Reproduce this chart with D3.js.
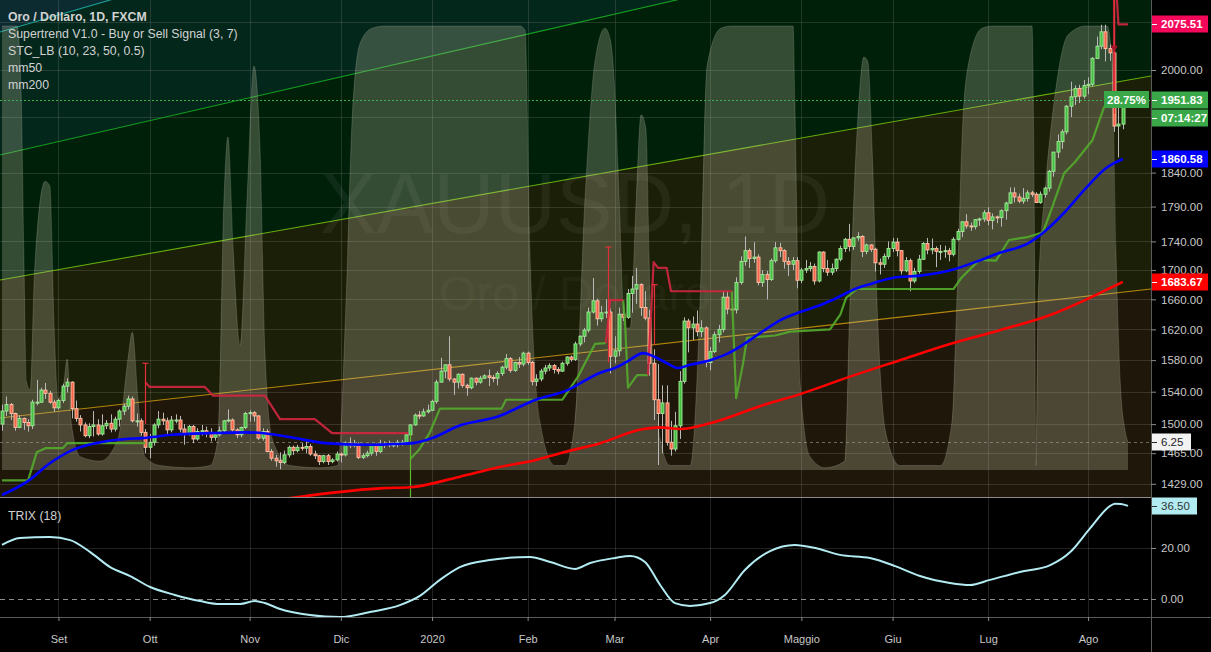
<!DOCTYPE html>
<html><head><meta charset="utf-8">
<script src="https://cdn.jsdelivr.net/npm/d3@7"></script>
<style>
html,body{margin:0;padding:0;background:#000;overflow:hidden}
svg{display:block}
text{font-family:"Liberation Sans",Arial,sans-serif}
</style></head>
<body><svg id="c" width="1211" height="652"></svg>
<script>
// ---------------- DATA ----------------
// daily OHLC, XAUUSD FXCM, 14 Aug 2019 .. 13 Aug 2020 (bar index 0..258)
const ohlc = [
// Aug 2019
[1500,1524,1492,1516],[1516,1534,1510,1524],[1524,1526,1505,1513],[1513,1514,1492,1496],[1496,1511,1495,1507],
[1507,1508,1493,1502],[1502,1506,1491,1498],[1498,1530,1494,1527],[1527,1555,1523,1527],[1527,1545,1526,1542],
[1542,1551,1531,1538],[1538,1541,1525,1527],[1527,1530,1515,1520],
// Sep
[1520,1531,1518,1529],[1529,1550,1526,1547],[1547,1557,1539,1552],[1552,1553,1507,1519],[1519,1529,1503,1507],
[1507,1511,1491,1499],[1499,1502,1484,1486],[1486,1501,1483,1497],[1497,1516,1485,1499],[1499,1506,1486,1488],
[1488,1512,1486,1498],[1498,1505,1494,1501],[1501,1512,1490,1494],[1494,1509,1491,1506],[1506,1518,1497,1516],
[1516,1525,1511,1522],[1522,1535,1518,1531],[1531,1534,1502,1504],[1504,1513,1497,1504],[1504,1507,1486,1490],
[1490,1494,1465,1472],
// Oct
[1472,1488,1459,1478],[1478,1501,1474,1499],[1499,1516,1495,1506],[1506,1514,1499,1504],[1504,1508,1488,1493],
[1493,1510,1490,1505],[1505,1512,1501,1505],[1505,1510,1490,1494],[1494,1500,1475,1488],[1488,1499,1486,1497],
[1497,1499,1477,1482],[1482,1495,1480,1491],[1491,1499,1486,1492],[1492,1497,1484,1490],[1490,1495,1479,1484],
[1484,1490,1480,1487],[1487,1497,1485,1492],[1492,1505,1490,1504],[1504,1518,1502,1505],[1505,1507,1490,1493],
[1493,1495,1483,1487],[1487,1497,1484,1496],[1496,1515,1494,1513],
// Nov
[1513,1517,1503,1514],[1514,1516,1503,1510],[1510,1511,1481,1483],[1483,1495,1480,1491],[1491,1494,1466,1467],
[1467,1470,1456,1459],[1459,1463,1449,1456],[1456,1466,1446,1454],[1454,1468,1452,1463],[1463,1474,1460,1472],
[1472,1474,1463,1468],[1468,1475,1466,1472],[1472,1477,1468,1471],[1471,1479,1465,1473],[1473,1476,1462,1464],
[1464,1468,1458,1462],[1462,1463,1451,1455],[1455,1463,1453,1462],[1462,1464,1451,1455],[1455,1459,1453,1457],
[1457,1467,1455,1464],
// Dec
[1464,1466,1454,1463],[1463,1479,1461,1477],[1477,1484,1471,1474],[1474,1481,1472,1476],[1476,1478,1458,1460],
[1460,1465,1458,1462],[1462,1468,1460,1465],[1465,1476,1462,1475],[1475,1477,1462,1467],[1467,1481,1465,1476],
[1476,1479,1471,1476],[1476,1480,1472,1475],[1475,1478,1472,1475],[1475,1481,1472,1478],[1478,1481,1474,1478],
[1478,1489,1476,1487],[1487,1500,1485,1499],[1499,1513,1498,1511],[1511,1516,1506,1510],[1510,1519,1509,1515],
[1515,1524,1513,1517],
// Jan 2020
[1517,1530,1516,1528],[1528,1555,1525,1552],[1552,1583,1552,1566],[1566,1575,1557,1574],[1574,1611,1553,1556],
[1556,1557,1536,1552],[1552,1563,1544,1562],[1562,1563,1545,1548],[1548,1550,1535,1545],[1545,1558,1543,1557],
[1557,1558,1548,1552],[1552,1560,1550,1557],[1557,1562,1556,1560],[1560,1568,1547,1558],[1558,1561,1552,1557],
[1557,1566,1548,1563],[1563,1573,1560,1571],[1571,1588,1568,1582],[1582,1584,1564,1567],[1567,1578,1565,1577],
[1577,1584,1570,1575],[1575,1591,1572,1589],
// Feb
[1589,1591,1574,1577],[1577,1579,1548,1553],[1553,1562,1547,1556],[1556,1569,1553,1566],[1566,1574,1562,1570],
[1570,1576,1566,1573],[1573,1575,1563,1568],[1568,1571,1562,1566],[1566,1578,1565,1576],[1576,1585,1573,1584],
[1584,1586,1578,1581],[1581,1604,1579,1601],[1601,1612,1598,1611],[1611,1622,1603,1619],[1619,1649,1616,1643],
[1643,1689,1641,1658],[1658,1661,1625,1634],[1634,1651,1630,1642],[1642,1660,1635,1643],[1643,1648,1563,1585],
// Mar
[1585,1611,1576,1592],[1592,1649,1585,1640],[1640,1652,1631,1636],[1636,1674,1634,1668],[1668,1692,1642,1674],
[1674,1703,1654,1680],[1680,1682,1638,1649],[1649,1671,1632,1635],[1635,1646,1560,1576],[1576,1594,1505,1530],
[1530,1575,1451,1513],[1513,1548,1465,1526],[1526,1548,1474,1478],[1478,1504,1462,1470],[1470,1515,1467,1498],
[1498,1566,1482,1553],[1553,1636,1550,1631],[1631,1634,1590,1622],[1622,1637,1606,1627],[1627,1645,1611,1617],
[1617,1632,1610,1622],[1622,1624,1571,1577],
// Apr
[1577,1597,1567,1591],[1591,1617,1589,1613],[1613,1626,1603,1620],[1620,1671,1616,1663],[1663,1671,1640,1647],
[1647,1653,1638,1646],[1646,1690,1641,1683],[1683,1719,1680,1712],[1712,1747,1706,1727],[1727,1730,1703,1716],
[1716,1739,1710,1718],[1718,1722,1679,1683],[1683,1700,1677,1694],[1694,1699,1660,1687],[1687,1716,1685,1713],
[1713,1739,1710,1731],[1731,1738,1718,1727],[1727,1729,1702,1712],[1712,1718,1692,1708],[1708,1718,1700,1713],
[1713,1718,1675,1686],
// May
[1686,1703,1682,1700],[1700,1714,1696,1702],[1702,1711,1698,1705],[1705,1709,1680,1685],[1685,1726,1683,1725],
[1725,1726,1697,1702],[1702,1714,1692,1697],[1697,1709,1693,1702],[1702,1716,1698,1715],[1715,1734,1712,1730],
[1730,1745,1725,1743],[1743,1765,1726,1733],[1733,1746,1728,1745],[1745,1753,1741,1747],[1747,1749,1718,1726],
[1726,1737,1722,1735],[1735,1736,1725,1729],[1729,1731,1698,1710],[1710,1716,1694,1708],[1708,1723,1703,1719],
[1719,1740,1715,1730],
// Jun
[1730,1745,1725,1739],[1739,1745,1719,1727],[1727,1728,1694,1699],[1699,1718,1697,1713],[1713,1716,1671,1685],
[1685,1703,1682,1698],[1698,1721,1695,1715],[1715,1739,1714,1737],[1737,1745,1722,1728],[1728,1744,1722,1730],
[1730,1733,1704,1726],[1726,1735,1714,1726],[1726,1734,1717,1727],[1727,1731,1712,1722],[1722,1746,1719,1743],
[1743,1758,1741,1754],[1754,1768,1746,1768],[1768,1779,1758,1762],[1762,1767,1755,1761],[1761,1772,1757,1771],
[1771,1774,1762,1772],[1772,1785,1768,1781],
// Jul
[1781,1789,1763,1770],[1770,1780,1757,1775],[1775,1777,1766,1774],[1774,1786,1761,1784],[1784,1797,1771,1795],
[1795,1818,1794,1810],[1810,1818,1796,1804],[1804,1809,1795,1798],[1798,1817,1794,1802],[1802,1814,1797,1810],
[1810,1813,1804,1808],[1808,1811,1795,1796],[1796,1812,1794,1808],[1808,1819,1803,1817],[1817,1844,1812,1842],
[1842,1871,1834,1871],[1871,1898,1862,1887],[1887,1906,1876,1902],[1902,1944,1898,1942],[1942,1981,1925,1957],
[1957,1975,1944,1970],[1970,1976,1947,1958],[1958,1984,1954,1975],
// Aug
[1975,1988,1961,1977],[1977,2021,1973,2019],[2019,2055,2018,2039],[2039,2075,2034,2063],[2063,2075,2014,2035],
[2035,2042,2015,2028],[2028,2032,1902,1911],[1911,1949,1863,1914],[1914,1956,1906,1951.83]
];

const monthLabels = ["Set","Ott","Nov","Dic","2020","Feb","Mar","Apr","Maggio","Giu","Lug","Ago"];
const monthBars   = [13,34,57,78,99,121,141,163,184,205,227,250];

const priceTicks = [2080,2000,1925,1840,1790,1740,1700,1660,1620,1580,1540,1500,1465,1429];
const trixTicks  = [0,20,40];

// mm50 / mm200  [bar index, price]
const mm50 = [[0,1416],[6.2,1433],[11,1453],[16.3,1469],[21.6,1477],[28.5,1482],[32.2,1483],[39.1,1487],[47.9,1489],
[55.9,1490],[60.3,1489],[66.5,1484],[74.4,1477],[84,1475],[91.2,1476],[94.6,1477],[99,1483],[105.2,1498],[114,1509],
[122.9,1530],[129.8,1541],[137.7,1564],[141.1,1570],[143.9,1578],[147.6,1589],[149.9,1585],[153.1,1576],[155.6,1570],
[158.4,1574],[163,1580],[166.9,1588],[170.6,1600],[174.5,1615],[179.1,1632],[183.7,1643],[188.3,1652],[191.1,1659],
[196.8,1675],[200,1681],[205.8,1690],[210.9,1692],[219.2,1701],[224,1711],[229.7,1724],[236.4,1738],[239.6,1752],
[244.5,1781],[249.5,1817],[254.4,1848],[258,1860.58]];
const mm200 = [[50,1400],[70,1415],[87.7,1424],[93.9,1425],[105.2,1437],[114,1448],[122.9,1457],[128.5,1465],
[137.7,1477],[147.6,1494],[151.5,1496],[156.1,1494],[163,1501],[174.5,1522],[183.7,1537],[195.2,1559],[206.7,1580],
[218.2,1601],[229.7,1619],[241.3,1639],[249.3,1659],[255,1675],[258,1683.67]];

// Supertrend V1.0 (3,7) segments [bar index, price]
const stUp1 = [[0,1433],[6,1433],[8,1466],[10,1471],[14,1471],[15,1477],[33,1477]];
const stDn1 = [[33,1552],[34,1546],[46.7,1546],[48.6,1535],[60.5,1535],[64,1506],[72,1506],[76,1489],[93.5,1489]];
const stUp2 = [[94,1458],[96,1469],[98.5,1490],[100.8,1519],[115,1519],[116,1530],[129,1530],[132.6,1559],[136.5,1601],[139,1602]];
const stDn2 = [[139,1602],[140,1659],[143,1659]];
const stUp3 = [[143,1659],[143.4,1632],[144.1,1545],[146.2,1561],[148.7,1561]];
const stDn3 = [[148.7,1561],[150,1711],[151,1703],[153,1703],[154,1671],[168,1671]];
const stUp4 = [[168,1671],[169,1532],[170.6,1576],[171.5,1609],[178,1612],[181.4,1617],[190.6,1620],[193,1640],
[194.3,1662],[196.8,1674],[219,1674],[220.8,1689],[225,1714],[228.8,1713],[231.8,1742],[236,1746],[239.6,1753],
[241.3,1781],[244.5,1839],[247,1856],[251,1889],[253.7,1941],[256,1942]];
const stDn4 = [[256,1945],[256,2200],[257,2075.51],[259.2,2075.51]];
// signal markers [bar index, from price, to price, type]
const signals = [[33,1500,1576,"sell"],[94,1489,1380,"buy"],[139.6,1577,1732,"sell"],[150,1600,1680,"sell"],[256,1930,2200,"sell"]];

// STC_LB (10,23,50,0.5) [bar index, value 0..100]
const stc = [[0,100],[3.5,100],[4.4,85],[5,50],[5.6,20],[6.5,18],[7.5,45],[9.9,65],[11,64],[12,32],[12.9,16],[14.3,20],
[15,25],[15.9,11],[18,3],[22.6,2],[26.7,7],[29,25],[30,31],[31.3,16],[32.9,3],[36.4,1],[43.3,0.5],[47.9,1],[49.7,7],
[51.1,61],[52,75],[53.2,50],[54.8,28],[56.4,61],[58,91],[59.4,72],[60.5,27],[62.2,7],[66.3,1],[73.2,0.5],[77.3,1],
[79.2,38],[80.6,79],[82.4,96],[85.2,99.5],[88.2,100],[119.2,100],[120.4,99],[121.5,50],[123.8,11],[127.3,1],[129.6,1],
[131.9,11],[134.2,61],[136.5,92],[138.8,99.5],[140,97],[140.9,88],[141.8,68],[143.4,32],[144.6,32],[146,61],[147.1,80],
[148.2,77],[149.2,38],[151.5,7],[153.8,1],[158.4,1],[160.7,38],[162.3,91],[165.5,99.5],[168,100],[182.1,100],[182.5,83],
[183.7,20],[186,3],[189.5,0.5],[194,2],[195.2,38],[197,79],[198.4,93],[199.3,92],[200.3,72],[201.4,38],[203.3,9],
[206.7,1],[216,1],[218.7,11],[219.8,38],[221.2,79],[222.4,91],[225.6,99.5],[228.1,100],[237.1,100],[237.6,61],[238,1],
[238.5,38],[240.3,65],[242.2,83],[245.4,98],[249.5,100],[254.4,100],[255.5,92],[256.4,50],[257.4,20],[258.5,9],[259.2,6.25]];
const stcLast = 6.25;

// TRIX (18) [bar index, value]
const trix = [[0,21.2],[4.1,23.9],[11,24.3],[15.7,23.1],[20.3,18.4],[24.9,12.5],[29.5,9.0],[34.1,4.7],[39.8,1.6],
[45.6,-0.8],[50.2,-2.0],[54.8,-2.0],[58.2,-0.8],[60.5,-1.6],[64,-3.9],[70.9,-6.3],[77.8,-7.1],[84.7,-5.1],[91.6,-2.4],
[96.2,1.2],[100.8,7.5],[105.4,12.5],[112.3,15.3],[121.5,16.5],[126.2,14.5],[131.9,11.8],[135.4,14.1],[141.1,16.1],
[144.6,16.9],[148,14.5],[151.5,5.5],[154.9,-1.6],[158.4,-2.7],[163,-1.6],[166.4,1.6],[171,11.4],[176.8,18.8],[182.5,21.2],
[187.2,20],[192.9,17.3],[199.8,16.1],[205.6,12.9],[211.3,9.0],[218.2,6.3],[222.8,5.5],[227.4,7.5],[234.3,10.6],
[241.3,13.3],[245.9,18.4],[250.5,27.8],[255.1,36.5],[256.2,37.4],[257.6,37.3],[259.2,36.5]];
const trixLast = 36.50;

// drawing-tool fan lines (two anchors each: [bar index, price])
const fanA = [[-0.46,2062.7],[-0.46,1866.6],[-0.46,1686.3],[-0.46,1507.5]];
const fanB = [[24.86,2117.0],[155.2,2117.0],[264.5,1990.3],[264.5,1674.0]];
const fanLineColors = ["#1aa398","#14a020","#66ad0c","#b4860c"];
const fanFillAbove  = ["#0c2b30","#04271c","#01200a","#1b1f07"];
const fanFillBelowAll = "#1f180a";

const lastPrice = 1951.83, lastChangePct = "28.75%", countdown = "07:14:27";

// ---------------- SCALES ----------------
const W=1211, H=652, PR=1151, MB=497, TB=617;
const x = d3.scaleLinear().domain([0,258]).range([2.0,1122.8]);
const y = d3.scaleLog().domain([1429,2000]).range([483.8,70]);
const yStc = d3.scaleLinear().domain([0,100]).range([470,26]);
const yTrix = d3.scaleLinear().domain([0,20]).range([599,548]);

const svg = d3.select("#c");
const defs = svg.append("defs");
defs.append("clipPath").attr("id","cpMain").append("rect").attr("x",0).attr("y",0).attr("width",PR).attr("height",MB);
defs.append("clipPath").attr("id","cpTrix").append("rect").attr("x",0).attr("y",MB+1).attr("width",PR).attr("height",TB-MB-1);

svg.append("rect").attr("width",W).attr("height",H).attr("fill","#000");

const gMain = svg.append("g").attr("clip-path","url(#cpMain)");
// background regions of fan
gMain.append("rect").attr("x",0).attr("y",0).attr("width",PR).attr("height",MB).attr("fill",fanFillBelowAll);
function fanPix(k){
  const x1=x(fanA[k][0]), y1=y(fanA[k][1]), x2=x(fanB[k][0]), y2=y(fanB[k][1]);
  const s=(y2-y1)/(x2-x1);
  return xx => y1 + s*(xx-x1);
}
for(let k=fanA.length-1;k>=0;k--){
  const f=fanPix(k);
  gMain.append("polygon").attr("points",[[-20,f(-20)],[1200,f(1200)],[1200,-3000],[-20,-3000]].map(p=>p.join(",")).join(" "))
    .attr("fill",fanFillAbove[k]);
}
// grid
const gGrid = svg.append("g");
priceTicks.forEach(t=>{
  gGrid.append("line").attr("x1",0).attr("x2",PR).attr("y1",Math.round(y(t))+0.5).attr("y2",Math.round(y(t))+0.5)
   .attr("stroke","rgba(150,150,150,0.22)").attr("stroke-width",1);
});
trixTicks.forEach(t=>{
  if(t===0) return;
  gGrid.append("line").attr("x1",0).attr("x2",PR).attr("y1",Math.round(yTrix(t))+0.5).attr("y2",Math.round(yTrix(t))+0.5)
   .attr("stroke","rgba(150,150,150,0.22)");
});
monthBars.forEach(b=>{
  gGrid.append("line").attr("x1",Math.round(x(b))+0.5).attr("x2",Math.round(x(b))+0.5).attr("y1",0).attr("y2",TB)
   .attr("stroke","rgba(150,150,150,0.22)");
});
// fan lines
const gFan = svg.append("g").attr("clip-path","url(#cpMain)");
for(let k=0;k<fanA.length;k++){
  const f=fanPix(k);
  gFan.append("line").attr("x1",-20).attr("y1",f(-20)).attr("x2",1200).attr("y2",f(1200))
    .attr("stroke",fanLineColors[k]).attr("stroke-width",1.1);
}
// watermark
const gWm = svg.append("g").attr("clip-path","url(#cpMain)");
gWm.append("text").attr("x",575).attr("y",233).attr("text-anchor","middle").attr("font-size",85)
  .attr("fill","rgba(255,255,255,0.055)").text("XAUUSD, 1D");
gWm.append("text").attr("x",575).attr("y",310).attr("text-anchor","middle").attr("font-size",48)
  .attr("fill","rgba(255,255,255,0.055)").text("Oro / Dollaro");

// STC area
const gInd = svg.append("g").attr("clip-path","url(#cpMain)");
gInd.append("path").datum(stc)
  .attr("d", d3.area().x(d=>x(d[0])).y0(yStc(0)).y1(d=>yStc(d[1])).curve(d3.curveMonotoneX))
  .attr("fill","rgba(205,205,175,0.26)");
gInd.append("path").datum(stc)
  .attr("d", d3.line().x(d=>x(d[0])).y(d=>yStc(d[1])).curve(d3.curveMonotoneX))
  .attr("fill","none").attr("stroke","rgba(230,230,210,0.18)").attr("stroke-width",1);
gInd.append("line").attr("x1",0).attr("x2",PR).attr("y1",Math.round(yStc(stcLast))+0.5).attr("y2",Math.round(yStc(stcLast))+0.5)
  .attr("stroke","rgba(170,170,170,0.55)").attr("stroke-dasharray","3,3");

// candles
const gC = svg.append("g").attr("clip-path","url(#cpMain)");
gC.selectAll("line.w").data(ohlc).join("line").attr("class","w")
  .attr("x1",(d,i)=>Math.round(x(i))+0.5).attr("x2",(d,i)=>Math.round(x(i))+0.5)
  .attr("y1",d=>y(d[1])).attr("y2",d=>y(d[2])).attr("stroke","#b9b9b9").attr("stroke-width",1);
gC.selectAll("rect.b").data(ohlc).join("rect").attr("class","b")
  .attr("x",(d,i)=>Math.round(x(i))-1).attr("width",3)
  .attr("y",d=>y(Math.max(d[0],d[3]))).attr("height",d=>Math.max(1,Math.abs(y(d[0])-y(d[3]))))
  .attr("fill",d=>d[3]>=d[0]?"#45c042":"#f4654a")
  .attr("stroke",d=>d[3]>=d[0]?"#a6e89c":"#ffc6aa").attr("stroke-width",0.9);

// supertrend
const ln = d3.line().x(d=>x(d[0])).y(d=>y(d[1]));
const gST = svg.append("g").attr("clip-path","url(#cpMain)");
const upCol="rgba(84,168,44,0.92)", dnCol="rgba(205,38,64,0.92)";
[stUp1,stUp2,stUp3,stUp4].forEach(s=>gST.append("path").attr("d",ln(s)).attr("fill","none").attr("stroke",upCol).attr("stroke-width",2.2).attr("stroke-linejoin","round"));
[stDn1,stDn2,stDn3,stDn4].forEach(s=>gST.append("path").attr("d",ln(s)).attr("fill","none").attr("stroke",dnCol).attr("stroke-width",2.2).attr("stroke-linejoin","round"));
signals.forEach(s=>{
  const c = s[3]==="buy" ? "#5cb82e" : "#e0303a";
  const xx = Math.round(x(s[0]))+0.5;
  gST.append("line").attr("x1",xx).attr("x2",xx).attr("y1",y(s[1])).attr("y2",y(s[2])).attr("stroke",c).attr("stroke-width",1.2);
  gST.append("line").attr("x1",xx-3).attr("x2",xx+3).attr("y1",y(s[2])).attr("y2",y(s[2])).attr("stroke",c).attr("stroke-width",1.2);
});
// sell arrow on last flip
{
  const ax = x(256), ay = y(2033);
  gST.append("path").attr("d",`M${ax-3.5},${ay-4}L${ax+3.5},${ay-4}L${ax},${ay+2}Z`).attr("fill","#b3122a");
}

// moving averages
const lc = d3.line().x(d=>x(d[0])).y(d=>y(d[1])).curve(d3.curveMonotoneX);
gST.append("path").attr("d",lc(mm200)).attr("fill","none").attr("stroke","#ff0000").attr("stroke-width",2.6);
gST.append("path").attr("d",lc(mm50)).attr("fill","none").attr("stroke","#0000ff").attr("stroke-width",2.6);

// last price line
gST.append("line").attr("x1",0).attr("x2",PR).attr("y1",Math.round(y(lastPrice))+0.5).attr("y2",Math.round(y(lastPrice))+0.5)
  .attr("stroke","#3fae4c").attr("stroke-dasharray","2,2").attr("stroke-width",1);

// pane separators / borders
svg.append("line").attr("x1",0).attr("x2",PR).attr("y1",MB+0.5).attr("y2",MB+0.5).attr("stroke","#8a8a8a");
svg.append("line").attr("x1",0).attr("x2",W).attr("y1",TB+0.5).attr("y2",TB+0.5).attr("stroke","#5a5a5a");
svg.append("line").attr("x1",PR+0.5).attr("x2",PR+0.5).attr("y1",0).attr("y2",H).attr("stroke","#5a5a5a");

// TRIX
const gT = svg.append("g").attr("clip-path","url(#cpTrix)");
gT.append("line").attr("x1",0).attr("x2",PR).attr("y1",Math.round(yTrix(0))+0.5).attr("y2",Math.round(yTrix(0))+0.5)
  .attr("stroke","#8c8c8c").attr("stroke-dasharray","5,4");
gT.append("path").attr("d",d3.line().x(d=>x(d[0])).y(d=>yTrix(d[1])).curve(d3.curveMonotoneX)(trix))
  .attr("fill","none").attr("stroke","#b2ebf2").attr("stroke-width",2);

// ---------------- AXES ----------------
const axisTxt = "#c8c8c8";
// label boxes in price axis to avoid
const boxes = [
  {p:y(2075.51), txt:"2075.51", bg:"#f5075a", fg:"#fff"},
  {p:y(lastPrice), txt:d3.format(".2f")(lastPrice), bg:"#3aa848", fg:"#fff"},
  {p:y(lastPrice)+18, txt:countdown, bg:"#3aa848", fg:"#fff"},
  {p:y(1860.58), txt:"1860.58", bg:"#0000ff", fg:"#fff"},
  {p:y(1683.67), txt:"1683.67", bg:"#ff0000", fg:"#fff"},
  {p:yStc(stcLast), txt:d3.format(".2f")(stcLast), bg:"#f2f2f2", fg:"#222", w:39}
];
const visTicks = priceTicks.filter(t=>boxes.every(b=>Math.abs(y(t)-b.p)>=9));
const gAx = svg.append("g").attr("transform",`translate(${PR},0)`)
  .call(d3.axisRight(y).tickValues(visTicks).tickFormat(d3.format(".2f")).tickSize(5).tickPadding(5));
gAx.select(".domain").remove();
gAx.selectAll("line").attr("stroke","#8a8a8a");
gAx.selectAll("text").attr("fill",axisTxt).attr("font-size",11.5);

const gAxT = svg.append("g").attr("transform",`translate(${PR},0)`)
  .call(d3.axisRight(yTrix).tickValues([0,20]).tickFormat(d3.format(".2f")).tickSize(5).tickPadding(5));
gAxT.select(".domain").remove();
gAxT.selectAll("line").attr("stroke","#8a8a8a");
gAxT.selectAll("text").attr("fill",axisTxt).attr("font-size",11.5);

const gX = svg.append("g").attr("transform",`translate(0,${TB})`)
  .call(d3.axisBottom(x).tickValues(monthBars).tickFormat((d,i)=>monthLabels[i]).tickSize(4).tickPadding(14));
gX.select(".domain").remove();
gX.selectAll("line").attr("stroke","#8a8a8a");
gX.selectAll("text").attr("fill",axisTxt).attr("font-size",11);

// price label boxes
const gB = svg.append("g");
boxes.forEach(b=>{
  const w = b.w || 56;
  gB.append("rect").attr("x",PR+1).attr("y",Math.round(b.p)-8.5).attr("width",w).attr("height",17).attr("fill",b.bg);
  gB.append("line").attr("x1",PR+1).attr("x2",PR+6).attr("y1",Math.round(b.p)+0.5).attr("y2",Math.round(b.p)+0.5).attr("stroke",b.fg);
  gB.append("text").attr("x",PR+10).attr("y",Math.round(b.p)+4.2).attr("fill",b.fg).attr("font-size",11.5)
    .attr("font-weight", b.fg==="#fff"?"bold":"normal").text(b.txt);
});
// TRIX last value box
{
  const p = yTrix(trixLast);
  gB.append("rect").attr("x",PR+1).attr("y",Math.round(p)-8.5).attr("width",45).attr("height",17).attr("fill","#b2ebf2");
  gB.append("line").attr("x1",PR+1).attr("x2",PR+6).attr("y1",Math.round(p)+0.5).attr("y2",Math.round(p)+0.5).attr("stroke","#333");
  gB.append("text").attr("x",PR+10).attr("y",Math.round(p)+4.2).attr("fill","#333").attr("font-size",11.5).text(d3.format(".2f")(trixLast));
}
// change % label inside pane
{
  const p = y(lastPrice);
  gB.append("rect").attr("x",1104).attr("y",Math.round(p)-9).attr("width",45).attr("height",17).attr("fill","#3aa848");
  gB.append("text").attr("x",1126.5).attr("y",Math.round(p)+4).attr("text-anchor","middle").attr("fill","#fff")
    .attr("font-size",11.5).attr("font-weight","bold").text(lastChangePct);
}

// legend
const legend = ["Oro / Dollaro, 1D, FXCM","Supertrend V1.0 - Buy or Sell Signal (3, 7)","STC_LB (10, 23, 50, 0.5)","mm50","mm200"];
legend.forEach((t,i)=>{
  svg.append("text").attr("x",8).attr("y",21+i*17).attr("fill","#d2d2d2").attr("font-size",12.3)
    .attr("font-weight",i===0?"bold":"normal").text(t);
});
svg.append("text").attr("x",8).attr("y",520).attr("fill","#d2d2d2").attr("font-size",12.3).text("TRIX (18)");
</script>
</body></html>
